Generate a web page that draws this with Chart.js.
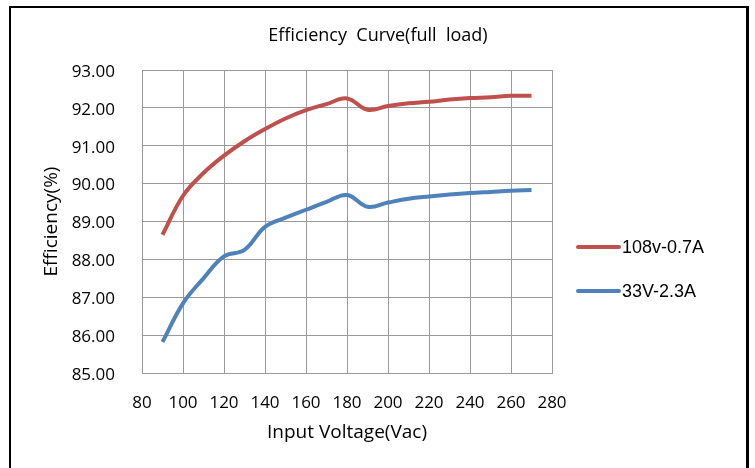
<!DOCTYPE html>
<html>
<head>
<meta charset="utf-8">
<script src="https://cdn.jsdelivr.net/npm/chart.js@4.4.1/dist/chart.umd.min.js"></script>
<style>
  html, body { margin: 0; padding: 0; background: #fff; overflow: hidden; }
  #wrap { position: relative; width: 755px; height: 468px; }
  #frame { position: absolute; left: 9px; top: 6px; width: 735px; height: 480px;
           border: 2px solid #000; border-right-width: 3px; pointer-events: none; }
  canvas#effchart { position: absolute; left: 0; top: 0; }
</style>
</head>
<body>
<div id="wrap">
  <canvas id="effchart" width="755" height="468"></canvas>
  <div id="frame"></div>
</div>
<script>
// input voltage (Vac)
var voltages = [90, 100, 110, 120, 130, 140, 150, 160, 170, 180, 190, 200, 210, 220, 230, 240, 250, 260, 270];
// efficiency readings (%)
var eff108v = [88.65, 89.68, 90.28, 90.74, 91.12, 91.44, 91.72, 91.94, 92.10, 92.25, 91.95, 92.05, 92.12, 92.16, 92.22, 92.26, 92.28, 92.32, 92.32];
var eff33v  = [85.82, 86.84, 87.50, 88.08, 88.25, 88.86, 89.10, 89.31, 89.52, 89.70, 89.39, 89.50, 89.60, 89.66, 89.71, 89.75, 89.78, 89.81, 89.83];
var seriesNames = ['108v-0.7A', '33V-2.3A'];
var seriesColors = ['#C0504D', '#4F81BD'];
var chartTitle = 'Efficiency  Curve(full  load)';

function toPoints(vals) {
    var pts = [];
    for (i = 0; i < voltages.length; i++) {
        pts.push({x: voltages[i], y: vals[i]});
    }
    return pts;
}

// title across the whole picture + legend at the right, like the excel one
var sideLegend = {
    id: 'sideLegend',
    afterDraw: function (chart) {
        var ctx = chart.ctx;
        var ys = [247, 291];
        ctx.save();
        ctx.fillStyle = '#000';
        ctx.font = '18px "Open Sans", sans-serif';
        ctx.textAlign = 'center';
        ctx.textBaseline = 'middle';
        ctx.fillText(chartTitle, 378, 36);

        chart.data.datasets.forEach(function (ds, i) {
            ctx.strokeStyle = ds.borderColor;
            ctx.lineWidth = 4;
            ctx.lineCap = 'round';
            ctx.beginPath();
            ctx.moveTo(578, ys[i]);
            ctx.lineTo(619, ys[i]);
            ctx.stroke();
            ctx.fillStyle = '#000';
            ctx.font = '18px "Liberation Sans", Arial, sans-serif';
            ctx.textBaseline = 'middle';
            ctx.textAlign = 'left';
            ctx.fillText(ds.label, 622, ys[i] + 1);
        });
        ctx.restore();
    }
};

var tickFont = {family: '"Open Sans", sans-serif', size: 17};
var labelFont = {family: '"Open Sans", sans-serif', size: 19};
var gridColor = '#9a9a9a';

var effChart = new Chart(document.getElementById('effchart').getContext('2d'), {
    type: 'line',
    data: {
        datasets: [
            {
                label: seriesNames[0],
                data: toPoints(eff108v),
                borderColor: seriesColors[0],
                backgroundColor: seriesColors[0],
                borderWidth: 4,
                pointRadius: 0,
                tension: 0.4,
                fill: false
            },
            {
                label: seriesNames[1],
                data: toPoints(eff33v),
                borderColor: seriesColors[1],
                backgroundColor: seriesColors[1],
                borderWidth: 4,
                pointRadius: 0,
                tension: 0.4,
                fill: false
            }
        ]
    },
    options: {
        responsive: false,
        animation: false,
        layout: {padding: {left: 0, top: 70, right: 203, bottom: 0}},
        plugins: {
            legend: {display: false},
            tooltip: {enabled: false},
            title: {display: false}
        },
        scales: {
            x: {
                type: 'linear',
                min: 80,
                max: 280,
                ticks: {stepSize: 20, color: '#000', font: tickFont, padding: 20, maxRotation: 0},
                grid: {color: gridColor, lineWidth: 1, drawTicks: false},
                border: {color: gridColor, width: 1},
                title: {display: true, text: 'Input Voltage(Vac)', color: '#000', font: labelFont,
                        padding: {top: 0, bottom: 24}},
                afterFit: function (scale) { scale.height = 95; }
            },
            y: {
                min: 85,
                max: 93,
                ticks: {
                    stepSize: 1, color: '#000', font: tickFont, padding: 27, labelOffset: 2,
                    callback: function (v) { return v.toFixed(2); }
                },
                grid: {color: gridColor, lineWidth: 1, drawTicks: false},
                border: {color: gridColor, width: 1},
                title: {display: true, text: 'Efficiency(%)', color: '#000', font: labelFont,
                        padding: {top: 40, bottom: 0}},
                afterFit: function (scale) { scale.width = 142; }
            }
        }
    },
    plugins: [sideLegend]
});
</script>
</body>
</html>
